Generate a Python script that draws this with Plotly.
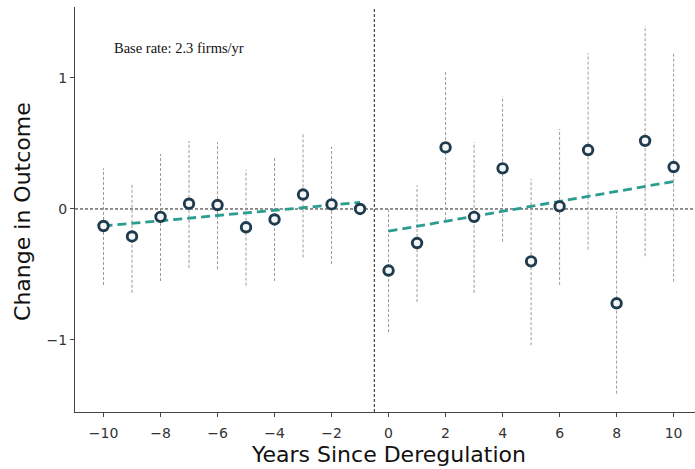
import plotly.graph_objects as go

# ---- data ----
years = [-10, -9, -8, -7, -6, -5, -4, -3, -2, -1, 0, 1, 2, 3, 4, 5, 6, 7, 8, 9, 10]
coef = [-0.13, -0.21, -0.06, 0.04, 0.03, -0.14, -0.08, 0.11, 0.035, 0.0,
        -0.47, -0.26, 0.47, -0.06, 0.31, -0.40, 0.02, 0.45, -0.72, 0.52, 0.32]
ci_lo = [-0.58, -0.64, -0.55, -0.45, -0.46, -0.585, -0.55, -0.37, -0.42, None,
         -0.94, -0.71, -0.085, -0.64, -0.25, -1.04, -0.58, -0.31, -1.41, -0.36, -0.555]
ci_hi = [0.31, 0.20, 0.42, 0.52, 0.51, 0.30, 0.39, 0.58, 0.475, None,
         0.0, 0.18, 1.05, 0.51, 0.86, 0.23, 0.61, 1.19, -0.02, 1.40, 1.19]
pre_trend_x = [-10, -1]
pre_trend_y = [-0.13, 0.05]
post_trend_x = [0, 10]
post_trend_y = [-0.17, 0.21]
event_x = -0.5
x_ticks = [-10, -8, -6, -4, -2, 0, 2, 4, 6, 8, 10]
x_tick_text = ["\u221210", "\u22128", "\u22126", "\u22124", "\u22122", "0", "2", "4", "6", "8", "10"]
y_ticks = [-1, 0, 1]
y_tick_text = ["\u22121", "0", "1"]
note_text = "Base rate: 2.3 firms/yr"

X_RANGE = [-11, 10.75]
Y_RANGE = [-1.55, 1.542]

# ---- CI segments ----
ci_x, ci_y = [], []
for x, lo, hi in zip(years, ci_lo, ci_hi):
    if lo is None or hi is None:
        continue
    ci_x += [x, x, None]
    ci_y += [lo, hi, None]

fig = go.Figure()

# reference lines
fig.add_trace(go.Scatter(x=X_RANGE, y=[0, 0], mode="lines",
                         line=dict(color="#222222", width=1, dash="3px,2px"),
                         hoverinfo="skip", showlegend=False))
fig.add_trace(go.Scatter(x=[event_x, event_x], y=Y_RANGE, mode="lines",
                         line=dict(color="#222222", width=1, dash="3px,2px"),
                         hoverinfo="skip", showlegend=False))

# confidence intervals
fig.add_trace(go.Scatter(x=ci_x, y=ci_y, mode="lines",
                         line=dict(color="#9a9a9a", width=1, dash="3px,2px"),
                         hoverinfo="skip", showlegend=False))

# trends
for tx, ty in [(pre_trend_x, pre_trend_y), (post_trend_x, post_trend_y)]:
    fig.add_trace(go.Scatter(x=tx, y=ty, mode="lines",
                             line=dict(color="#2a9d8f", width=2.8, dash="9px,5px"),
                             showlegend=False))

# point estimates
fig.add_trace(go.Scatter(x=years, y=coef, mode="markers",
                         marker=dict(size=9.5, color="#f4f6f7",
                                     line=dict(color="#1f3b4d", width=2.9)),
                         showlegend=False))

fig.update_layout(
    width=695, height=469,
    margin=dict(l=75, r=0, t=7, b=57),
    plot_bgcolor="white", paper_bgcolor="white",
    font=dict(family="DejaVu Sans", color="#333333", size=14),
    xaxis=dict(range=X_RANGE, tickvals=x_ticks, ticktext=x_tick_text,
               showgrid=False, zeroline=False, showline=True,
               linecolor="#444444", linewidth=1, ticks="outside",
               ticklen=4, tickwidth=1, tickcolor="#444444",
               ticklabelstandoff=4,
               tickfont=dict(size=14, color="#333333")),
    yaxis=dict(range=Y_RANGE, tickvals=y_ticks, ticktext=y_tick_text,
               showgrid=False, zeroline=False, showline=True,
               linecolor="#444444", linewidth=1, ticks="outside",
               ticklen=4, tickwidth=1, tickcolor="#444444",
               tickfont=dict(size=14, color="#333333")),
    annotations=[
        dict(text=note_text, xref="paper", yref="paper", x=0.0597, y=0.899,
             xanchor="left", yanchor="middle", showarrow=False,
             font=dict(family="Liberation Serif", size=14.5, color="#111111")),
        dict(text="Years Since Deregulation", xref="x", yref="paper",
             x=0, y=0, yshift=-42, xanchor="center", yanchor="middle",
             showarrow=False, font=dict(family="DejaVu Sans", size=22, color="#111111")),
        dict(text="Change in Outcome", xref="paper", yref="paper",
             x=0, y=0.494, xshift=-52, xanchor="center", yanchor="middle",
             textangle=-90, showarrow=False,
             font=dict(family="DejaVu Sans", size=22, color="#111111")),
    ],
)

fig.write_html("out.html")
